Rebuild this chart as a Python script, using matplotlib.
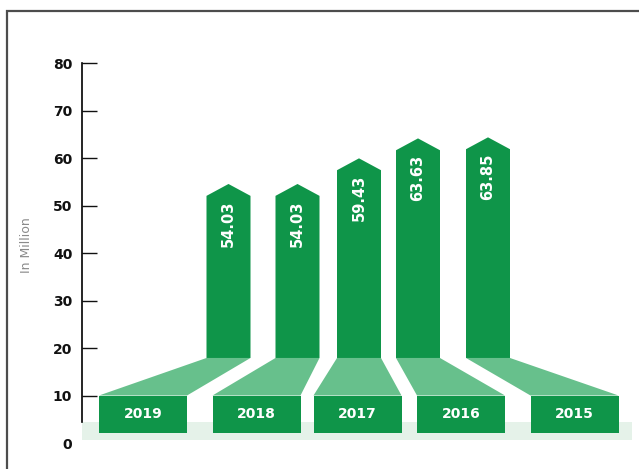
import matplotlib.pyplot as plt
from matplotlib.patches import Rectangle, Polygon

years = ['2019', '2018', '2017', '2016', '2015']
values = [54.03, 54.03, 59.43, 63.63, 63.85]
value_labels = ['54.03', '54.03', '59.43', '63.63', '63.85']
yticks = [0, 10, 20, 30, 40, 50, 60, 70, 80]

# layout (x in pixel-like units along the axis)
bar_x = [146.5, 215.5, 277, 336, 406]
box_x = [61, 174.5, 275.5, 379, 492.5]
bar_w = 44
box_w = 88
box_lo, box_hi = 2.2, 10
bar_lo = 17.9

dark = '#0f9549'
light = '#67c08c'
floor = '#e5f2e9'

fig = plt.figure(figsize=(6.39, 4.69), dpi=100)
ax = fig.add_axes([82 / 639, 26 / 469, 557 / 639, 380 / 469])
ax.set_xlim(0, 557)
ax.set_ylim(0, 80)

# pale floor strip under the year boxes
ax.fill_between([0, 550], 0.6, 4.4, color=floor, lw=0, zorder=1)

for i in range(len(years)):
    v = values[i]
    bl, br = bar_x[i] - bar_w / 2, bar_x[i] + bar_w / 2
    xl, xr = box_x[i] - box_w / 2, box_x[i] + box_w / 2
    # slanted connector from bar foot to year box
    ax.add_patch(Polygon([(xl, box_hi), (xr, box_hi), (br, bar_lo), (bl, bar_lo)],
                         closed=True, facecolor=light, edgecolor='none', zorder=2))
    # bar with pointed top
    shoulder = v - 2.0
    ax.add_patch(Polygon([(bl, bar_lo), (br, bar_lo), (br, shoulder),
                          (bar_x[i], v + 0.5), (bl, shoulder)],
                         closed=True, facecolor=dark, edgecolor='none', zorder=3))
    ax.add_patch(Rectangle((xl, box_lo), box_w, box_hi - box_lo,
                           facecolor=dark, edgecolor='none', zorder=3))
    ax.text(box_x[i], (box_lo + box_hi) / 2, years[i], color='white',
            fontsize=10, fontweight='bold', ha='center', va='center', zorder=4)
    ax.text(bar_x[i], v - 3.0, value_labels[i], color='white', rotation=90,
            fontsize=10.5, fontweight='bold', ha='center', va='top', zorder=4)

for s in ['top', 'right', 'bottom']:
    ax.spines[s].set_visible(False)
ax.spines['left'].set_bounds(4.4, 80)
ax.spines['left'].set_linewidth(1.2)
ax.set_xticks([])
ax.set_yticks(yticks)
ax.set_yticklabels([str(t) for t in yticks], fontweight='bold', fontsize=10)
ax.tick_params(axis='y', direction='in', length=11, width=1, pad=7, colors='#111111')
ax.yaxis.get_major_ticks()[0].tick1line.set_visible(False)

fig.text(27 / 639, 1 - 245 / 469, 'In Million', rotation=90, color='#8a8a8a',
         fontsize=9, ha='center', va='center')

# outer frame
fig.add_artist(Rectangle((7 / 639, -0.1), 1.0, 458 / 469 + 0.1, transform=fig.transFigure,
                         fill=False, edgecolor='#4d4d4d', lw=1.6))

fig.savefig('out.png', dpi=100)
